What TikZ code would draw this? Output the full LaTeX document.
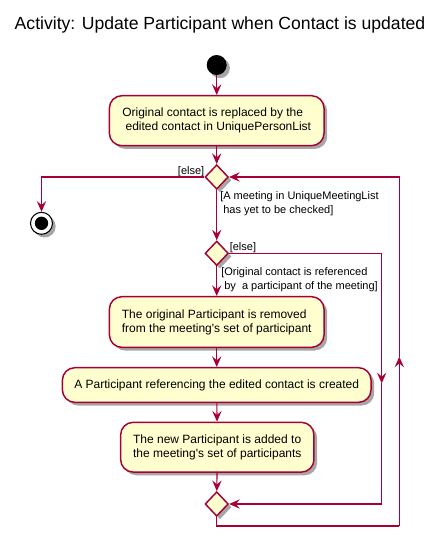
\documentclass[tikz,border=0pt]{standalone}
\usepackage{fontspec}
\setmainfont{Liberation Sans}[Ligatures=TeXOff]
\usetikzlibrary{arrows.meta,shapes.geometric,shadows}
\definecolor{umlred}{HTML}{A80036}
\definecolor{umlfill}{HTML}{FEFECE}
\tikzset{
  shad/.style={drop shadow={shadow xshift=2.4pt,shadow yshift=-2.4pt,opacity=0.35,fill=black}},
  actbox/.style={rectangle,rounded corners=9.4pt,draw=umlred,line width=1.1pt,fill=umlfill,shad,
    align=left,inner sep=0pt,font=\fontsize{9}{10.6}\selectfont},
  decis/.style={diamond,draw=umlred,line width=1.1pt,fill=umlfill,shad,inner sep=0pt,
    minimum width=17.5pt,minimum height=18.4pt},
  arr/.style={draw=umlred,line width=0.8pt,-{Stealth[length=8pt,width=7pt,inset=3pt]}},
  ln/.style={draw=umlred,line width=0.8pt},
  guard/.style={inner sep=0pt,align=left,font=\fontsize{8.25}{10.2}\selectfont},
}
\begin{document}
\begin{tikzpicture}[x=0.75pt,y=-0.75pt]
\useasboundingbox (0,0) rectangle (440,549);
\node[anchor=base,font=\fontsize{13.2}{16}\selectfont] (title) at (220,29.5) {Activity: Update Participant when Contact is updated};
\node[circle,fill=black,inner sep=0pt,minimum size=15pt,shad] (start) at (216.7,65) {};
\node[actbox,minimum width=161pt,minimum height=37.5pt] (b1) at (216.7,120.7)
  {Original contact is replaced by the\\\mbox{}\ edited contact in UniquePersonList};
\node[decis] (d1) at (216.7,177) {};
\node[circle,draw=black,line width=0.8pt,fill=white,inner sep=0pt,minimum size=16.5pt,shad] (stop) at (41.5,223.3) {};
\node[circle,fill=black,inner sep=0pt,minimum size=10pt] (stopdot) at (stop.center) {};
\node[decis] (d2) at (216.7,253.3) {};
\node[actbox,minimum width=161pt,minimum height=38pt] (b2) at (216.7,322)
  {The original Participant is removed\\from the meeting's set of participant};
\node[actbox,minimum width=231.5pt,minimum height=26pt] (b3) at (216.7,385)
  {A Participant referencing the edited contact is created};
\node[actbox,minimum width=145pt,minimum height=37.3pt] (b4) at (217.3,447.2)
  {The new Participant is added to\\the meeting's set of participants};
\node[decis] (m) at (216.7,504) {};
% guards
\node[guard,anchor=east] (else1) at (204.5,171.5) {[else]};
\node[guard,anchor=north west] (g1) at (220,191.5) {[A meeting in UniqueMeetingList\\\mbox{}\ has yet to be checked]};
\node[guard,anchor=west] (else2) at (229.5,247.5) {[else]};
\node[guard,anchor=north west] (g2) at (221,267.5) {[Original contact is referenced\\\mbox{}\ by\ \ a participant of the meeting]};
% coordinates
\coordinate (r2a) at (381.7,253.3);
\coordinate (r2mid) at (381.7,383.3);
\coordinate (r2b) at (381.7,504);
\coordinate (bl) at (216.7,526);
\coordinate (br) at (399.3,526);
\coordinate (r1mid) at (399.3,356.7);
\coordinate (r1top) at (399.3,177);
% connectors
\draw[arr] (start) -- (b1);
\draw[arr] (b1) -- (d1);
\draw[arr] (d1.west) -| (stop.north);
\draw[arr] (d1) -- (d2);
\draw[arr] (d2) -- (b2);
\draw[arr] (b2) -- (b3);
\draw[arr] (b3) -- (b4);
\draw[arr] (b4) -- (m);
\draw[ln] (d2.east) -- (r2a);
\draw[arr] (r2a) -- (r2mid);
\draw[arr] (r2mid) -- (r2b) -- (m.east);
\draw[ln] (m.south) -- (bl) -- (br);
\draw[arr] (br) -- (r1mid);
\draw[arr] (r1mid) -- (r1top) -- (d1.east);
\end{tikzpicture}
\end{document}
